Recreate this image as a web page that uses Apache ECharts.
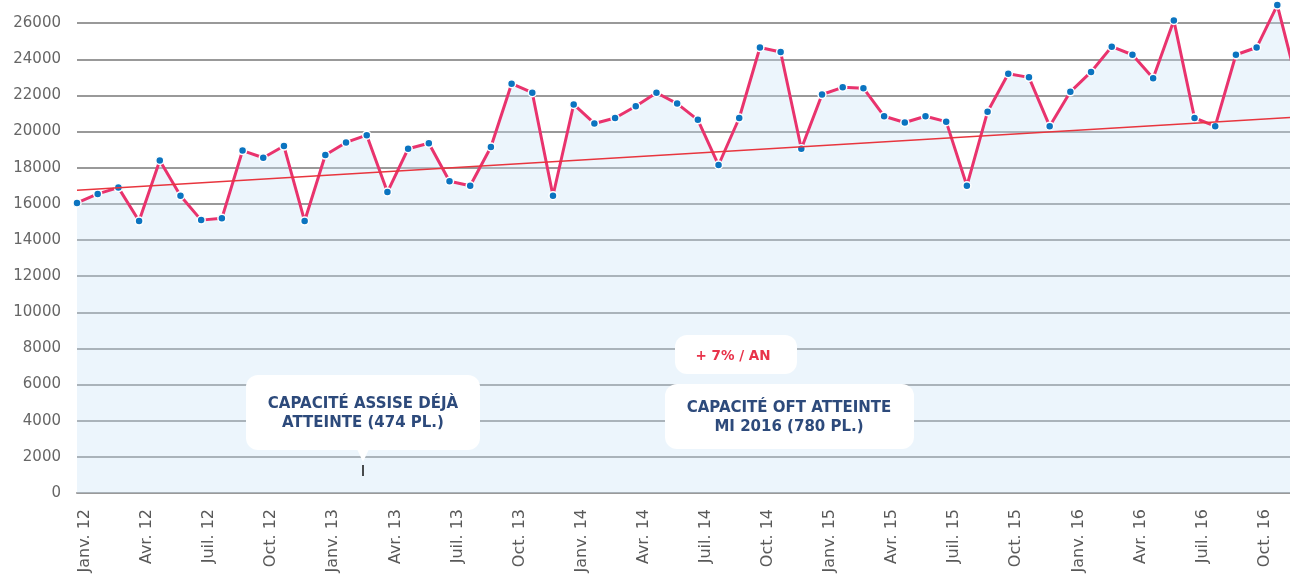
<!DOCTYPE html>
<html>
<head>
<meta charset="utf-8">
<script src="https://cdn.jsdelivr.net/npm/echarts@6/dist/echarts.min.js"></script>
<style>
  html, body { margin: 0; padding: 0; background: #fff; }
  #chart { width: 1290px; height: 576px; }
</style>
</head>
<body>
<div id="chart"></div>
<script>
// mois / années de l'axe x
const months = ['Janv.', 'Févr.', 'Mars', 'Avr.', 'Mai', 'Juin', 'Juil.', 'Août', 'Sept.', 'Oct.', 'Nov.', 'Déc.'];
const years = ['12', '13', '14', '15', '16'];
const categories = years.flatMap(y => months.map(m => m + ' ' + y));

// fréquentation mensuelle
const visitors = [
  16050, 16550, 16900, 15050, 18400, 16450, 15100, 15200, 18950, 18550, 19200, 15050,
  18700, 19400, 19800, 16650, 19050, 19350, 17250, 17000, 19150, 22650, 22150, 16450,
  21500, 20450, 20750, 21400, 22150, 21550, 20650, 18150, 20750, 24650, 24400, 19050,
  22050, 22450, 22400, 20850, 20500, 20850, 20550, 17000, 21100, 23200, 23000, 20300,
  22200, 23300, 24700, 24250, 22950, 26150, 20750, 20300, 24250, 24650, 27000, 22500
];

// tendance (+7%/an) : début et fin
const trendStart = 16750;
const trendEnd = 20800;

const yMin = 0;
const yMax = 28000;
const yStep = 2000;

const chart = echarts.init(document.getElementById('chart'));

const option = {
  animation: false,
  grid: {
    left: 77,
    right: -8,
    top: -13,
    bottom: 83,
    containLabel: false,
    outerBoundsMode: 'none'
  },
  xAxis: {
    type: 'category',
    data: categories,
    boundaryGap: false,
    axisTick: { show: false },
    axisLine: {
      lineStyle: { color: '#9a9a9a', width: 2 }
    },
    axisLabel: {
      interval: 2,
      rotate: 90,
      margin: 16,
      verticalAlign: 'top',
      color: '#595959',
      fontSize: 16,
      fontFamily: 'DejaVu Sans'
    }
  },
  yAxis: {
    type: 'value',
    min: yMin,
    max: yMax,
    interval: yStep,
    axisLine: { show: false },
    axisTick: { show: false },
    axisLabel: {
      margin: 16,
      color: '#666',
      fontSize: 15,
      fontFamily: 'DejaVu Sans',
      formatter: v => String(v)
    },
    splitLine: {
      lineStyle: { color: '#777', width: 1.5 }
    }
  },
  series: [{
    name: 'Tendance',
    type: 'line',
    data: [],
    z: 1,
    markLine: {
      silent: true,
      symbol: 'none',
      label: { show: false },
      lineStyle: { color: '#e8353e', width: 1.5, type: 'solid' },
      data: [[
        { coord: [0, trendStart] },
        { coord: [categories.length - 1, trendEnd] }
      ]]
    }
  }, {
    name: 'Fréquentation',
    type: 'line',
    data: visitors,
    z: 2,
    symbol: 'circle',
    symbolSize: 8,
    showAllSymbol: true,
    itemStyle: {
      color: '#0b74c0',
      borderColor: '#fff',
      borderWidth: 1.5
    },
    lineStyle: {
      color: '#e9336d',
      width: 3
    },
    areaStyle: {
      color: 'rgba(200, 228, 247, 0.5)'
    }
  }],
  graphic: [
    // bulle "capacité assise"
    { type: 'rect', z: 100, shape: { x: 246, y: 375, width: 234, height: 75, r: 12 }, style: { fill: '#fff' } },
    { type: 'polygon', z: 100, shape: { points: [[357, 449], [369, 449], [363, 462]] }, style: { fill: '#fff' } },
    { type: 'line', z: 100, shape: { x1: 363, y1: 465, x2: 363, y2: 476 }, style: { stroke: '#111', lineWidth: 1.5 } },
    {
      type: 'text', z: 101, x: 363, y: 414,
      style: {
        text: 'CAPACITÉ ASSISE DÉJÀ\nATTEINTE (474 PL.)',
        align: 'center', verticalAlign: 'middle', lineHeight: 19,
        fill: '#2d4a7b', font: 'bold 15px "DejaVu Sans"'
      }
    },
    // + 7% / an
    { type: 'rect', z: 100, shape: { x: 675, y: 335, width: 122, height: 39, r: 12 }, style: { fill: '#fff' } },
    {
      type: 'text', z: 101, x: 733, y: 356,
      style: {
        text: '+ 7% / AN',
        align: 'center', verticalAlign: 'middle',
        fill: '#e8334a', font: 'bold 13.5px "DejaVu Sans"'
      }
    },
    // bulle "capacité OFT"
    { type: 'rect', z: 100, shape: { x: 665, y: 384, width: 249, height: 65, r: 12 }, style: { fill: '#fff' } },
    {
      type: 'text', z: 101, x: 789, y: 418,
      style: {
        text: 'CAPACITÉ OFT ATTEINTE\nMI 2016 (780 PL.)',
        align: 'center', verticalAlign: 'middle', lineHeight: 19,
        fill: '#2d4a7b', font: 'bold 15px "DejaVu Sans"'
      }
    }
  ]
};

chart.setOption(option);
</script>
</body>
</html>
